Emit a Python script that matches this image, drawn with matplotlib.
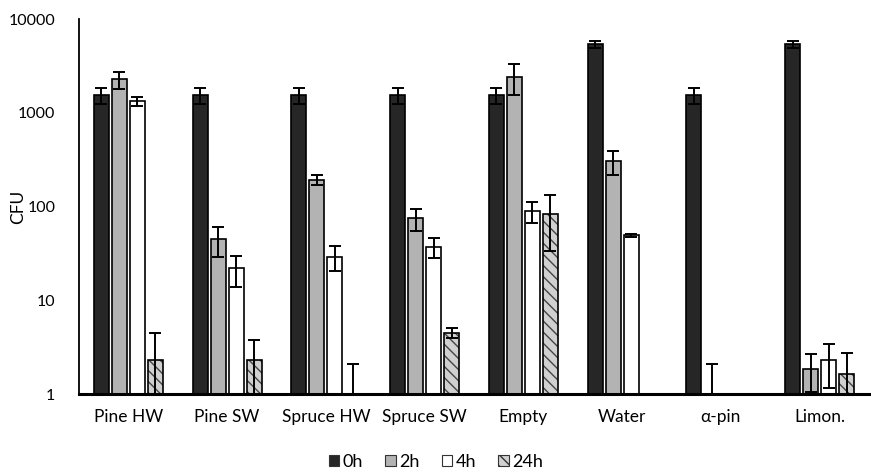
import numpy as np
import matplotlib
matplotlib.use("Agg")
import matplotlib.pyplot as plt
from matplotlib.patches import Patch

plt.rcParams['font.family'] = ['Lato', 'DejaVu Sans']
plt.rcParams['hatch.linewidth'] = 1.0

categories = ["Pine HW", "Pine SW", "Spruce HW", "Spruce SW", "Empty", "Water", "α-pin", "Limon."]
series = ["0h", "2h", "4h", "24h"]

v0h = [1540, 1540, 1540, 1540, 1540, 5350, 1540, 5350]
e0h = [300, 300, 300, 300, 300, 500, 300, 500]
v2h = [2280, 45, 193, 75, 2415, 303, 0, 1.85]
e2h = [470, 16, 24, 20, 870, 85, 2.1, 0.8]
v4h = [1320, 22, 29, 37, 90, 49.3, 0, 2.29]
e4h = [150, 8, 8.5, 9, 23, 1.5, 0, 1.13]
v24h = [2.3, 2.3, 0, 4.5, 83.5, 0, 0, 1.62]
e24h = [2.2, 1.5, 2.1, 0.5, 50, 0, 0, 1.15]

values = [v0h, v2h, v4h, v24h]
errors = [e0h, e2h, e4h, e24h]
faces = ["#262626", "#b3b3b3", "#ffffff", "#d0d0d0"]

fig = plt.figure(figsize=(8.71, 4.74), dpi=100)
ax = fig.add_axes([79/871, 80/474, 790/871, 375/474])

x = np.arange(len(categories))
width = 0.152
step = 0.182
floor = 0.01

for i, (vals, errs, fc) in enumerate(zip(values, errors, faces)):
    vals = np.array(vals, dtype=float)
    errs = np.array(errs, dtype=float)
    pos = x + (i - 1.5) * step
    heights = np.where(vals > 0, vals, np.nan)
    if i == 3:
        ax.bar(pos, heights, width, color=fc, edgecolor="#444444", linewidth=0,
               hatch="\\\\\\", zorder=2)
        ax.bar(pos, heights, width, fill=False, edgecolor="black", linewidth=1.2, zorder=3)
    else:
        ax.bar(pos, heights, width, color=fc, edgecolor="black", linewidth=1.2, zorder=2)
    ybase = np.where(vals > 0, vals, floor)
    lower = np.minimum(errs, ybase - floor)
    lower = np.where(vals > 0, lower, 0)
    upper = np.where(vals > 0, errs, np.maximum(errs - floor, 0))
    mask = errs > 0
    ax.errorbar(pos[mask], ybase[mask], yerr=[lower[mask], upper[mask]], fmt="none",
                ecolor="black", elinewidth=1.4, capsize=4.5, capthick=1.4, zorder=4)

ax.set_yscale("log")
ax.set_ylim(1, 10000)
ax.set_xlim(-0.5, len(categories) - 0.5)
ax.set_yticks([1, 10, 100, 1000, 10000])
ax.set_yticklabels(["1", "10", "100", "1000", "10000"])
ax.yaxis.set_minor_locator(matplotlib.ticker.NullLocator())
ax.set_xticks(x)
ax.set_xticklabels(categories)
ax.tick_params(axis="both", length=0, colors="black")
ax.tick_params(axis="x", pad=11, labelsize=12.5)
ax.tick_params(axis="y", pad=17, labelsize=11.5)
ax.set_ylabel("CFU", fontsize=12.5)
ax.yaxis.set_label_coords(-0.067, 0.5)

for s in ["top", "right"]:
    ax.spines[s].set_visible(False)
ax.spines["left"].set_linewidth(1.3)
ax.spines["bottom"].set_linewidth(2.2)

handles = []
for i, (s, fc) in enumerate(zip(series, faces)):
    if i == 3:
        handles.append(Patch(facecolor=fc, edgecolor="#333333", hatch="\\\\\\", linewidth=0.8, label=s))
    else:
        handles.append(Patch(facecolor=fc, edgecolor="#333333", linewidth=0.8, label=s))
fig.legend(handles=handles, loc="center", bbox_to_anchor=(436/871, 1 - 462/474), ncol=4,
           frameon=False, fontsize=13, handlelength=0.6, handleheight=0.6,
           handletextpad=0.2, columnspacing=1.2, borderpad=0.1)

fig.savefig("out.png", dpi=100)
